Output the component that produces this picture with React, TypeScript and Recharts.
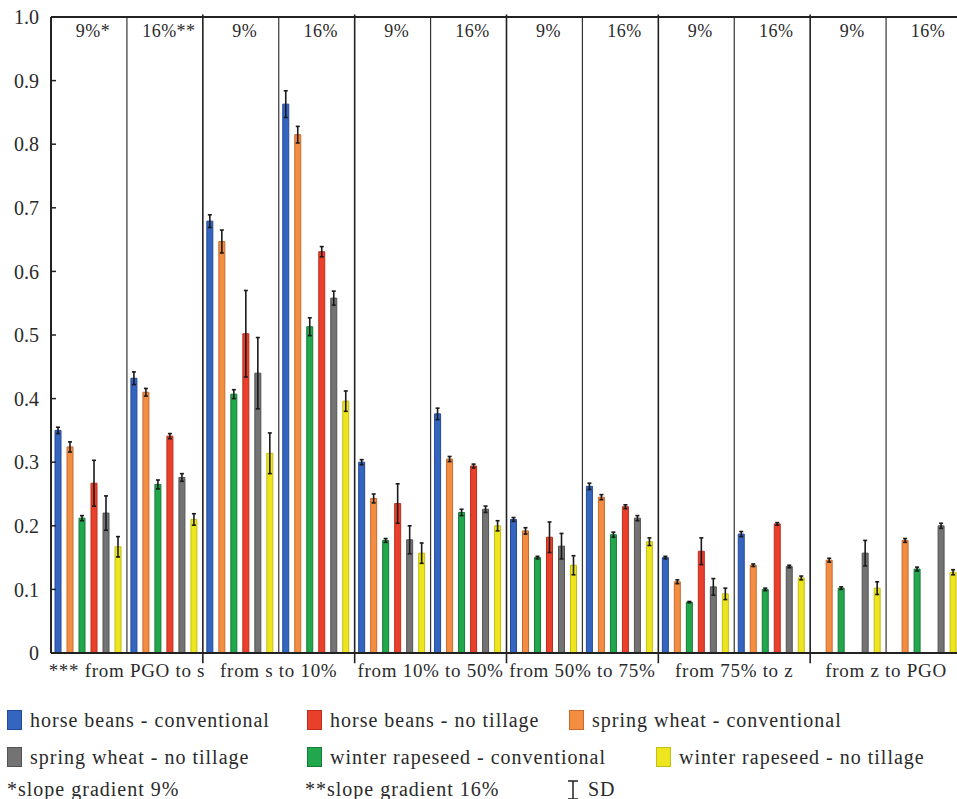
import {
  Bar,
  BarChart,
  ErrorBar,
  ReferenceLine,
  XAxis,
  YAxis,
} from "recharts";

const groups = [
  "*** from PGO to s",
  "from s to 10%",
  "from 10% to 50%",
  "from 50% to 75%",
  "from 75% to z",
  "from z to PGO",
];
const slopes = ["9%", "16%"];
const slopeLabels = ["9%*", "16%**", "9%", "16%", "9%", "16%", "9%", "16%", "9%", "16%", "9%", "16%"];

// values in subgroup order: group x slope
const hbConv = [0.35, 0.432, 0.679, 0.863, 0.3, 0.376, 0.21, 0.262, 0.15, 0.187, null, null];
const hbConvSd = [0.005, 0.01, 0.01, 0.021, 0.004, 0.009, 0.003, 0.005, 0.002, 0.004, null, null];
const swConv = [0.324, 0.41, 0.647, 0.815, 0.243, 0.305, 0.192, 0.245, 0.112, 0.138, 0.146, 0.177];
const swConvSd = [0.008, 0.006, 0.018, 0.013, 0.007, 0.004, 0.005, 0.004, 0.003, 0.002, 0.003, 0.003];
const wrConv = [0.212, 0.265, 0.407, 0.513, 0.177, 0.221, 0.15, 0.186, 0.08, 0.1, 0.102, 0.132];
const wrConvSd = [0.004, 0.007, 0.007, 0.014, 0.003, 0.005, 0.002, 0.004, 0.001, 0.002, 0.002, 0.003];
const hbNt = [0.267, 0.341, 0.502, 0.631, 0.235, 0.294, 0.182, 0.23, 0.16, 0.203, null, null];
const hbNtSd = [0.036, 0.004, 0.068, 0.008, 0.031, 0.003, 0.024, 0.003, 0.021, 0.002, null, null];
const swNt = [0.22, 0.276, 0.44, 0.558, 0.178, 0.226, 0.168, 0.212, 0.104, 0.136, 0.157, 0.2];
const swNtSd = [0.027, 0.006, 0.056, 0.011, 0.022, 0.005, 0.02, 0.004, 0.013, 0.002, 0.02, 0.004];
const wrNt = [0.167, 0.21, 0.314, 0.396, 0.157, 0.2, 0.138, 0.175, 0.093, 0.118, 0.102, 0.127];
const wrNtSd = [0.016, 0.009, 0.032, 0.016, 0.016, 0.008, 0.015, 0.006, 0.009, 0.003, 0.01, 0.004];

const yTicks = [0, 0.1, 0.2, 0.3, 0.4, 0.5, 0.6, 0.7, 0.8, 0.9, 1.0];

const series = [
  {key: "hbConv", name: "horse beans - conventional", vals: hbConv, sd: hbConvSd, fill: "#3566bf", stroke: "#24489a"},
  {key: "swConv", name: "spring wheat - conventional", vals: swConv, sd: swConvSd, fill: "#f28d42", stroke: "#c96a2c"},
  {key: "wrConv", name: "winter rapeseed - conventional", vals: wrConv, sd: wrConvSd, fill: "#21a84c", stroke: "#177a37"},
  {key: "hbNt", name: "horse beans - no tillage", vals: hbNt, sd: hbNtSd, fill: "#e8402b", stroke: "#bf2c1c"},
  {key: "swNt", name: "spring wheat - no tillage", vals: swNt, sd: swNtSd, fill: "#737373", stroke: "#525252"},
  {key: "wrNt", name: "winter rapeseed - no tillage", vals: wrNt, sd: wrNtSd, fill: "#ede61f", stroke: "#c4bd12"},
];

const data = groups.flatMap((g, gi) =>
  slopes.map((s, si) => {
    const i = gi * 2 + si;
    const row: any = {key: `${g} ${s}`, group: g};
    series.forEach((sr) => {
      row[sr.key] = sr.vals[i];
      row[sr.key + "Sd"] = sr.sd[i];
    });
    return row;
  })
);

const FONT = "'Liberation Serif', 'Times New Roman', serif";
const INK = "#222";
const TXT = "#2a2a2a";

// legend placement order, like the figure
const legendRows = [
  [series[0], series[3], series[1]],
  [series[4], series[2], series[5]],
];
const legendCols = [[7, 307, 569], [7, 307, 656]];

const legendText = {fontSize: 20, letterSpacing: 1, whiteSpace: "nowrap" as const};

function Swatch({fill, stroke}: {fill: string; stroke: string}) {
  return (
    <span
      style={{
        display: "inline-block",
        width: 13,
        height: 18,
        background: fill,
        border: `1px solid ${stroke}`,
        marginRight: 8,
        verticalAlign: "middle",
      }}
    />
  );
}

export default function App() {
  return (
    <div
      style={{
        position: "absolute",
        left: 0,
        top: 0,
        width: 957,
        height: 799,
        overflow: "hidden",
        background: "#fff",
        fontFamily: FONT,
        color: TXT,
      }}
    >
      <BarChart
        width={975}
        height={690}
        data={data}
        margin={{top: 17, right: 0, bottom: 7, left: 0}}
        barCategoryGap={4}
        barGap={6}
      >
        <XAxis
          xAxisId="sub"
          dataKey="key"
          orientation="top"
          mirror
          tickLine={false}
          tickSize={0}
          tickMargin={7}
          axisLine={{stroke: INK, strokeWidth: 2}}
          tickFormatter={(_v: any, i: number) => slopeLabels[i]}
          tick={{fill: TXT, fontSize: 18, fontFamily: FONT, dx: 4, letterSpacing: 0.5}}
          interval={0}
        />
        <XAxis
          xAxisId="grp"
          dataKey="group"
          allowDuplicatedCategory={false}
          orientation="bottom"
          height={30}
          tickLine={false}
          tickSize={6}
          tickMargin={5}
          axisLine={{stroke: INK, strokeWidth: 2}}
          tick={{fill: TXT, fontSize: 19, fontFamily: FONT, letterSpacing: 0.7}}
          interval={0}
        />
        <YAxis
          yAxisId="l"
          width={51}
          domain={[0, 1]}
          ticks={yTicks}
          tickSize={-5}
          tickMargin={17}
          tickFormatter={(v: number) => (v === 0 ? "0" : v.toFixed(1))}
          axisLine={{stroke: INK, strokeWidth: 2}}
          tickLine={{stroke: INK, strokeWidth: 1.5}}
          tick={{fill: TXT, fontSize: 20, fontFamily: FONT}}
        />
        <YAxis
          yAxisId="r"
          orientation="right"
          width={13}
          domain={[0, 1]}
          ticks={yTicks}
          tickSize={-5}
          tick={false}
          axisLine={{stroke: INK, strokeWidth: 2}}
          tickLine={{stroke: INK, strokeWidth: 1.5}}
        />
        {data.slice(1).map((d, i) =>
          (i + 1) % 2 === 0 ? (
            <ReferenceLine
              key={d.key}
              xAxisId="sub"
              yAxisId="l"
              position="start"
              ifOverflow="visible"
              segment={[
                {x: d.key, y: -0.016},
                {x: d.key, y: 1.004},
              ]}
              stroke={INK}
              strokeWidth={1.6}
            />
          ) : (
            <ReferenceLine
              key={d.key}
              xAxisId="sub"
              yAxisId="l"
              x={d.key}
              position="start"
              stroke="#333"
              strokeWidth={1.2}
            />
          )
        )}
        {series.map((s) => (
          <Bar
            key={s.key}
            xAxisId="sub"
            yAxisId="l"
            dataKey={s.key}
            fill={s.fill}
            stroke={s.stroke}
            strokeWidth={1}
            isAnimationActive={false}
          >
            <ErrorBar dataKey={s.key + "Sd"} width={2} stroke="#1a1a1a" strokeWidth={1.6} />
          </Bar>
        ))}
      </BarChart>

      {legendRows.map((row, ri) =>
        row.map((s, ci) => (
          <div
            key={s.key}
            style={{
              position: "absolute",
              left: legendCols[ri][ci],
              top: 707 + ri * 37,
              lineHeight: "22px",
              ...legendText,
            }}
          >
            <Swatch fill={s.fill} stroke={s.stroke} />
            <span style={{verticalAlign: "middle"}}>{s.name}</span>
          </div>
        ))
      )}
      <div style={{position: "absolute", left: 7, top: 778, ...legendText}}>
        *slope gradient 9%
      </div>
      <div style={{position: "absolute", left: 305, top: 778, ...legendText}}>
        **slope gradient 16%
      </div>
      <div
        style={{
          position: "absolute",
          left: 564,
          top: 778,
          display: "flex",
          alignItems: "center",
          ...legendText,
        }}
      >
        <svg width={18} height={22} style={{marginRight: 6}}>
          <line x1={4} y1={2} x2={14} y2={2} stroke={INK} strokeWidth={1.5} />
          <line x1={9} y1={2} x2={9} y2={20} stroke={INK} strokeWidth={1.5} />
          <line x1={4} y1={20} x2={14} y2={20} stroke={INK} strokeWidth={1.5} />
        </svg>
        SD
      </div>
    </div>
  );
}
